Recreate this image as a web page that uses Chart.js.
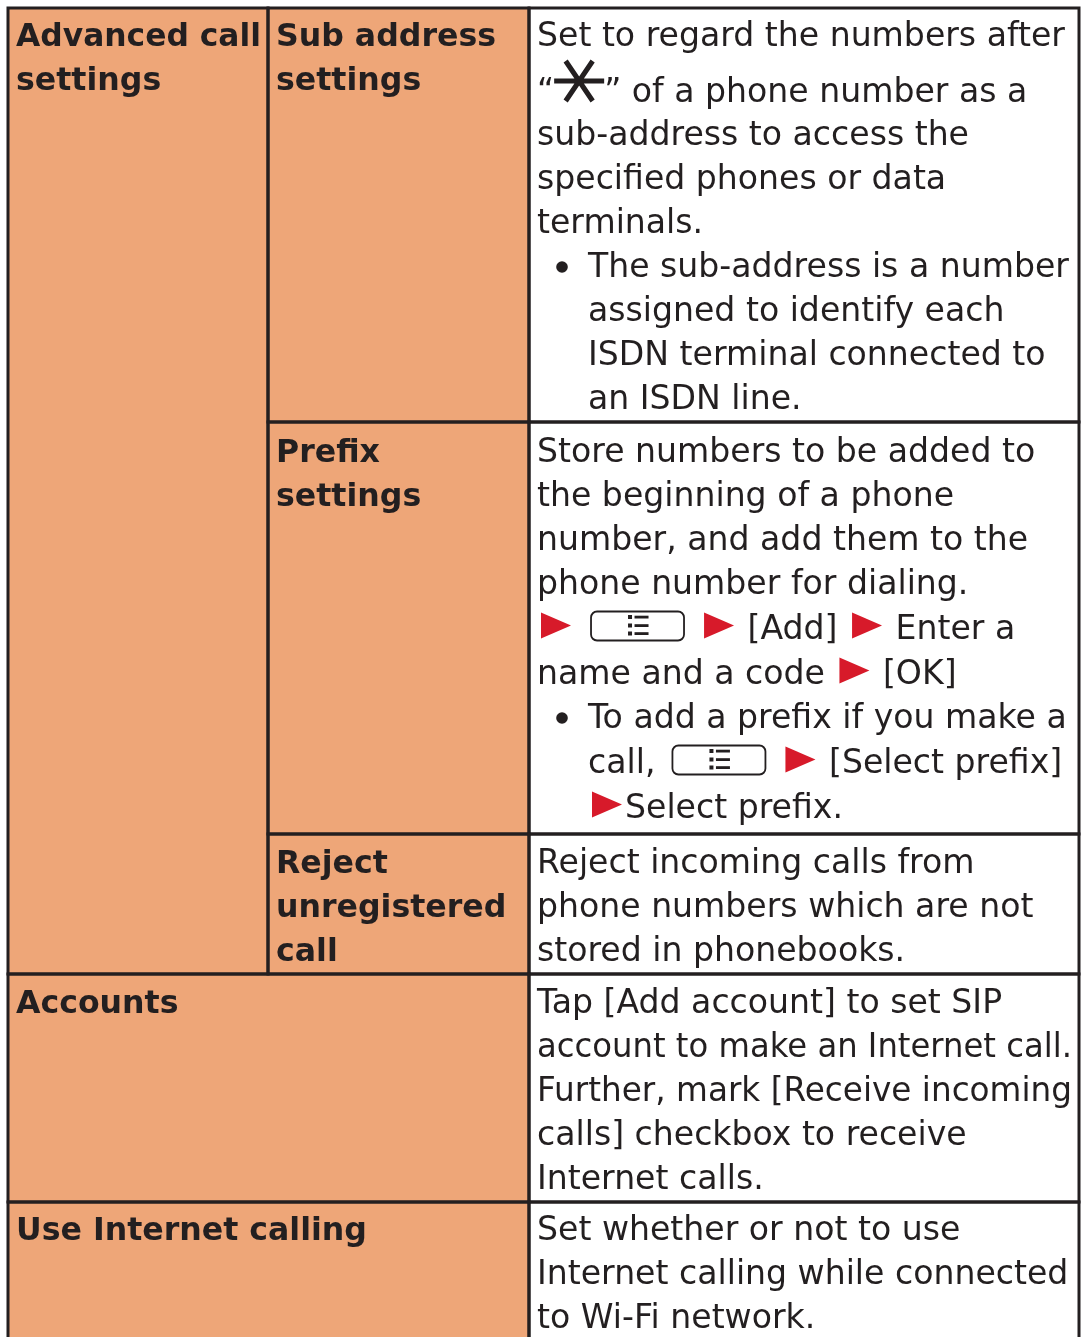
<!DOCTYPE html>
<html>
<head>
<meta charset="utf-8">
<script src="https://cdn.jsdelivr.net/npm/chart.js@4/dist/chart.umd.min.js"></script>
<style>
  html, body { margin: 0; padding: 0; background: #ffffff; }
  #wrap { width: 1081px; height: 1337px; overflow: hidden; }
  canvas { display: block; }
</style>
</head>
<body>
<div id="wrap"><canvas id="chart" width="1081" height="1337"></canvas></div>
<script>
// ---------------- DATA (content only) ----------------
const groupLabels = [
  ["Advanced call", "settings"],
  ["Accounts"],
  ["Use Internet calling"]
];
const itemLabels = [
  ["Sub address", "settings"],
  ["Prefix", "settings"],
  ["Reject", "unregistered", "call"]
];
const descSubAddress = [
  "Set to regard the numbers after",
  "\u201C{star}\u201D of a phone number as a",
  "sub-address to access the",
  "specified phones or data",
  "terminals.",
  "\u2022 The sub-address is a number",
  "\tassigned to identify each",
  "\tISDN terminal connected to",
  "\tan ISDN line."
];
const descPrefix = [
  "Store numbers to be added to",
  "the beginning of a phone",
  "number, and add them to the",
  "phone number for dialing.",
  "{tri} {menu} {tri} [Add] {tri} Enter a",
  "name and a code {tri} [OK]",
  "\u2022 To add a prefix if you make a",
  "\tcall, {menu} {tri} [Select prefix]",
  "\t{tri}Select prefix."
];
const descReject = [
  "Reject incoming calls from",
  "phone numbers which are not",
  "stored in phonebooks."
];
const descAccounts = [
  "Tap [Add account] to set SIP",
  "account to make an Internet call.",
  "Further, mark [Receive incoming",
  "calls] checkbox to receive",
  "Internet calls."
];
const descInternet = [
  "Set whether or not to use",
  "Internet calling while connected",
  "to Wi-Fi network."
];

// ---------------- LAYOUT / STYLE ----------------
const W = 1081, H = 1337;
const COLS = [8, 268, 529, 1079];
const ROWS = [8, 422, 834, 974, 1202, 1350];
const FIRST_BASE = [46, 462, 873, 1013, 1240];
const LINE_H = 44;
const ORANGE = "#EEA678";
const INK = "#231F20";
const RED = "#D71A2A";
const PAD_X = 8;
const TEXT_RIGHT = 1072;

const cells = [
  { c0: 0, c1: 1, r0: 0, r1: 3, fill: ORANGE, lines: groupLabels[0], bold: true, base: FIRST_BASE[0] },
  { c0: 1, c1: 2, r0: 0, r1: 1, fill: ORANGE, lines: itemLabels[0], bold: true, base: FIRST_BASE[0] },
  { c0: 2, c1: 3, r0: 0, r1: 1, fill: "#FFFFFF", lines: descSubAddress, bold: false, base: FIRST_BASE[0] },
  { c0: 1, c1: 2, r0: 1, r1: 2, fill: ORANGE, lines: itemLabels[1], bold: true, base: FIRST_BASE[1] },
  { c0: 2, c1: 3, r0: 1, r1: 2, fill: "#FFFFFF", lines: descPrefix, bold: false, base: FIRST_BASE[1] },
  { c0: 1, c1: 2, r0: 2, r1: 3, fill: ORANGE, lines: itemLabels[2], bold: true, base: FIRST_BASE[2] },
  { c0: 2, c1: 3, r0: 2, r1: 3, fill: "#FFFFFF", lines: descReject, bold: false, base: FIRST_BASE[2] },
  { c0: 0, c1: 2, r0: 3, r1: 4, fill: ORANGE, lines: groupLabels[1], bold: true, base: FIRST_BASE[3] },
  { c0: 2, c1: 3, r0: 3, r1: 4, fill: "#FFFFFF", lines: descAccounts, bold: false, base: FIRST_BASE[3] },
  { c0: 0, c1: 2, r0: 4, r1: 5, fill: ORANGE, lines: groupLabels[2], bold: true, base: FIRST_BASE[4] },
  { c0: 2, c1: 3, r0: 4, r1: 5, fill: "#FFFFFF", lines: descInternet, bold: false, base: FIRST_BASE[4] }
];

let regFont = '33px "DejaVu Sans", Verdana, sans-serif';
let boldFont = 'bold 31.5px "DejaVu Sans", Verdana, sans-serif';

function calibrate(ctx) {
  ctx.font = '100px "DejaVu Sans", Verdana, sans-serif';
  const w1 = ctx.measureText("Set to regard the numbers after").width;
  const rs = 100 * 528 / w1;
  regFont = rs.toFixed(2) + 'px "DejaVu Sans", Verdana, sans-serif';
  ctx.font = 'bold 100px "DejaVu Sans", Verdana, sans-serif';
  const w2 = ctx.measureText("Advanced call").width;
  const bs = 100 * 247 / w2;
  boldFont = 'bold ' + bs.toFixed(2) + 'px "DejaVu Sans", Verdana, sans-serif';
}

function drawTri(ctx, x, base) {
  const x0 = x + 4, cy = base - 13.5;
  ctx.fillStyle = RED;
  ctx.beginPath();
  ctx.moveTo(x0, cy - 13);
  ctx.lineTo(x0 + 30, cy);
  ctx.lineTo(x0, cy + 13);
  ctx.closePath();
  ctx.fill();
  return 37;
}
function roundRect(ctx, x, y, w, h, r) {
  ctx.beginPath();
  ctx.moveTo(x + r, y);
  ctx.lineTo(x + w - r, y);
  ctx.arcTo(x + w, y, x + w, y + r, r);
  ctx.lineTo(x + w, y + h - r);
  ctx.arcTo(x + w, y + h, x + w - r, y + h, r);
  ctx.lineTo(x + r, y + h);
  ctx.arcTo(x, y + h, x, y + h - r, r);
  ctx.lineTo(x, y + r);
  ctx.arcTo(x, y, x + r, y, r);
  ctx.closePath();
}
function drawMenu(ctx, x, base) {
  const x0 = x + 6, w = 93, h = 29, y0 = base - 28;
  ctx.strokeStyle = INK;
  ctx.lineWidth = 1.8;
  roundRect(ctx, x0 + 0.5, y0 + 0.5, w, h, 6);
  ctx.stroke();
  const cx = x0 + w / 2, cy = y0 + h / 2;
  ctx.fillStyle = INK;
  [-8.5, 0, 8].forEach(dy => {
    ctx.fillRect(cx - 9, cy + dy - 2, 4, 4);
    ctx.fillRect(cx - 2.5, cy + dy - 1.3, 14, 2.8);
  });
  return 105;
}
function drawStar(ctx, x, base) {
  const w = 50, cx = x + w / 2, cy = base - 21;
  ctx.strokeStyle = INK;
  ctx.lineWidth = 5;
  ctx.lineCap = "butt";
  ctx.beginPath();
  ctx.moveTo(x, cy); ctx.lineTo(x + w, cy);
  ctx.moveTo(cx - 13.5, cy - 20); ctx.lineTo(cx + 13.5, cy + 20);
  ctx.moveTo(cx + 13.5, cy - 20); ctx.lineTo(cx - 13.5, cy + 20);
  ctx.stroke();
  return w;
}

function drawRich(ctx, text, x, base, maxRight) {
  const parts = text.split(/(\{tri\}|\{menu\}|\{star\})/);
  let cx = x;
  parts.forEach(p => {
    if (!p) return;
    if (p === "{tri}") cx += drawTri(ctx, cx, base);
    else if (p === "{menu}") cx += drawMenu(ctx, cx, base);
    else if (p === "{star}") cx += drawStar(ctx, cx, base);
    else {
      ctx.fillStyle = INK;
      const w = ctx.measureText(p).width;
      const avail = maxRight - cx;
      if (w > avail) {
        ctx.fillText(p, cx, base, avail);
        cx += avail;
      } else {
        ctx.fillText(p, cx, base);
        cx += w;
      }
    }
  });
}

const tablePlugin = {
  id: "tablePlugin",
  beforeDatasetsDraw(chart) {
    const ctx = chart.ctx;
    const sx = chart.scales.x, sy = chart.scales.y;
    const px = v => sx.getPixelForValue(v);
    const py = v => sy.getPixelForValue(v);
    calibrate(ctx);
    ctx.save();
    // fills
    cells.forEach(c => {
      const x0 = px(COLS[c.c0]), x1 = px(COLS[c.c1]);
      const y0 = py(ROWS[c.r0]), y1 = py(ROWS[c.r1]);
      ctx.fillStyle = c.fill;
      ctx.fillRect(x0, y0, x1 - x0, y1 - y0);
    });
    // text
    ctx.textBaseline = "alphabetic";
    ctx.textAlign = "left";
    cells.forEach(c => {
      const tx = px(COLS[c.c0]) + PAD_X;
      const maxRight = px(COLS[c.c1]) - 7;
      let base = c.base;
      c.lines.forEach((ln, i) => {
        if (i > 0) {
          base += LINE_H;
          if (ln.indexOf("{star}") >= 0) base += 12;
          if (c.lines[i - 1].indexOf("{star}") >= 0) base -= 1;
          if (ln.indexOf("{menu}") >= 0 || ln.indexOf("{tri}") >= 0) base += 1;
        }
        const by = py(base);
        ctx.font = c.bold ? boldFont : regFont;
        if (ln.startsWith("\u2022 ")) {
          ctx.fillStyle = INK;
          ctx.beginPath();
          ctx.arc(tx + 25, by - 10, 5.8, 0, Math.PI * 2);
          ctx.fill();
          drawRich(ctx, ln.slice(2), tx + 51, by, maxRight);
        } else if (ln.startsWith("\t")) {
          drawRich(ctx, ln.slice(1), tx + 51, by, maxRight);
        } else {
          drawRich(ctx, ln, tx, by, maxRight);
        }
      });
    });
    // borders
    ctx.strokeStyle = INK;
    ctx.lineWidth = 3;
    ctx.lineCap = "butt";
    cells.forEach(c => {
      const x0 = px(COLS[c.c0]), x1 = px(COLS[c.c1]);
      const y0 = py(ROWS[c.r0]), y1 = py(ROWS[c.r1]);
      ctx.strokeRect(x0, y0, x1 - x0, y1 - y0);
    });
    ctx.restore();
  }
};

new Chart(document.getElementById("chart"), {
  type: "scatter",
  data: { datasets: [{ data: [], showLine: false }] },
  options: {
    responsive: false,
    animation: false,
    devicePixelRatio: 1,
    layout: { padding: 0 },
    plugins: { legend: { display: false }, tooltip: { enabled: false }, title: { display: false } },
    scales: {
      x: { type: "linear", min: 0, max: W, display: false },
      y: { type: "linear", min: 0, max: H, reverse: true, display: false }
    }
  },
  plugins: [tablePlugin]
});
</script>
</body>
</html>
